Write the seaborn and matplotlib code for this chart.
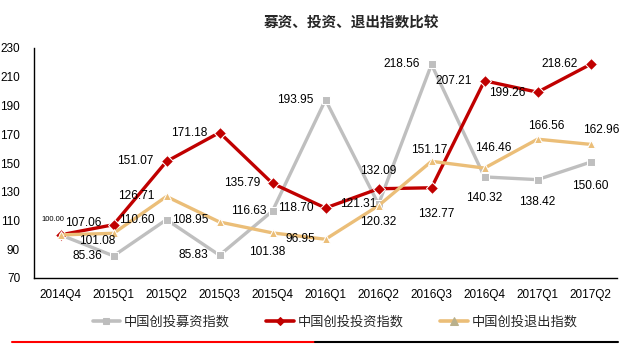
import matplotlib
matplotlib.use("Agg")
import matplotlib.pyplot as plt
from matplotlib.lines import Line2D
import seaborn as sns
import pandas as pd

quarters = ["2014Q4", "2015Q1", "2015Q2", "2015Q3", "2015Q4", "2016Q1",
            "2016Q2", "2016Q3", "2016Q4", "2017Q1", "2017Q2"]
fundraising = [100.00, 85.36, 110.60, 85.83, 116.63, 193.95,
               121.31, 218.56, 140.32, 138.42, 150.60]
investment = [100.00, 107.06, 151.07, 171.18, 135.79, 118.70,
              132.09, 132.77, 207.21, 199.26, 218.62]
exits = [100.00, 101.08, 126.71, 108.95, 101.38, 96.95,
         120.32, 151.17, 146.46, 166.56, 162.96]
series_names = ["中国创投募资指数", "中国创投投资指数", "中国创投退出指数"]
y_ticks = [70, 90, 110, 130, 150, 170, 190, 210, 230]
title = "募资、投资、退出指数比较"

sns.set_style("white")
plt.rcParams["font.family"] = ["Liberation Sans", "Noto Sans CJK SC", "DejaVu Sans"]

df = pd.DataFrame({
    "quarter": quarters * 3,
    "value": fundraising + investment + exits,
    "series": [s for s in series_names for _ in quarters],
})

colors = {series_names[0]: "#BFBFBF", series_names[1]: "#C00000", series_names[2]: "#EBBE78"}
markers = {series_names[0]: "s", series_names[1]: "D", series_names[2]: "^"}
marker_sizes = {series_names[0]: 6.5, series_names[1]: 6, series_names[2]: 7.5}
marker_faces = {series_names[0]: "#BDBDBD", series_names[1]: "#C00000", series_names[2]: "#B9B08C"}

fig = plt.figure(figsize=(6.24, 3.47), dpi=100)
ax = fig.add_axes([34 / 624, 69 / 347, 583 / 624, 230 / 347])

sns.lineplot(data=df, x="quarter", y="value", hue="series", style="series",
             palette=colors, markers=markers, dashes=False, linewidth=2.4,
             sort=False, ax=ax)

handles, labels = ax.get_legend_handles_labels()
ax.get_legend().remove()

for line in ax.lines:
    lab = line.get_label()
    if lab in markers:
        line.set_markersize(marker_sizes[lab])
        line.set_markerfacecolor(marker_faces[lab])
        line.set_markeredgecolor(marker_faces[lab])
for h in handles:
    lab = h.get_label()
    if lab in markers:
        h.set_markersize(marker_sizes[lab] * 0.75)
        h.set_markerfacecolor(marker_faces[lab])
        h.set_markeredgecolor(marker_faces[lab])
        h.set_linewidth(2.6)

ax.set_xlim(-0.5, len(quarters) - 0.5)
ax.set_ylim(70, 230)
ax.set_yticks(y_ticks)
ax.set_xlabel("")
ax.set_ylabel("")
ax.tick_params(axis="both", length=0, labelsize=8.5, colors="#000000")
ax.tick_params(axis="y", pad=10)
ax.tick_params(axis="x", pad=8)
sns.despine(ax=ax, top=True, right=True)
for side in ("left", "bottom"):
    ax.spines[side].set_color("#000000")
    ax.spines[side].set_linewidth(1.0)

# label offsets in pixels from each point (x, y)
offsets = {
    0: [(-8, 15), (-26, 0), (-30, 0), (-26, 0), (-24, 0), (-30, 0),
        (-20, 0), (-30, 0), (0, -21), (0, -22), (0, -24)],
    1: [None, (-30, 2), (-31, 0), (-30, 0), (-30, 0), (-30, 0),
        (0, 18), (5, -26), (-31, 0), (-30, -1), (-31, 0)],
    2: [None, (-16, -8), (-30, 0), (-29, 2), (-5, -19), (-25, 0),
        (0, -16), (-2, 11), (9, 20), (9, 13), (11, 14)],
}
values = [fundraising, investment, exits]
for si, vals in enumerate(values):
    for qi, v in enumerate(vals):
        off = offsets[si][qi]
        if off is None:
            continue
        size = 5.5 if (qi == 0) else 8.6
        ax.annotate(f"{v:.2f}", xy=(qi, v), xytext=off, textcoords="offset pixels",
                    ha="center", va="center", fontsize=size, color="#000000")

fig.text(351 / 624, 1 - 22 / 347, title, ha="center", va="center",
         fontsize=10.5, fontweight="bold", family=["Noto Sans CJK SC", "DejaVu Sans"])

fig.legend(handles, labels, loc="center", bbox_to_anchor=(335 / 624, 1 - 322 / 347),
           ncol=3, frameon=False, handlelength=2.1, handletextpad=0.25,
           columnspacing=2.8, prop={"family": ["Noto Sans CJK SC", "DejaVu Sans"], "size": 9.5})

fig.add_artist(Line2D([12 / 624, 315 / 624], [1 - 342 / 347] * 2, color="#FF0000", linewidth=1.5))
fig.add_artist(Line2D([315 / 624, 618 / 624], [1 - 342 / 347] * 2, color="#000000", linewidth=1.5))

fig.savefig("out.png", dpi=100, facecolor="white")
